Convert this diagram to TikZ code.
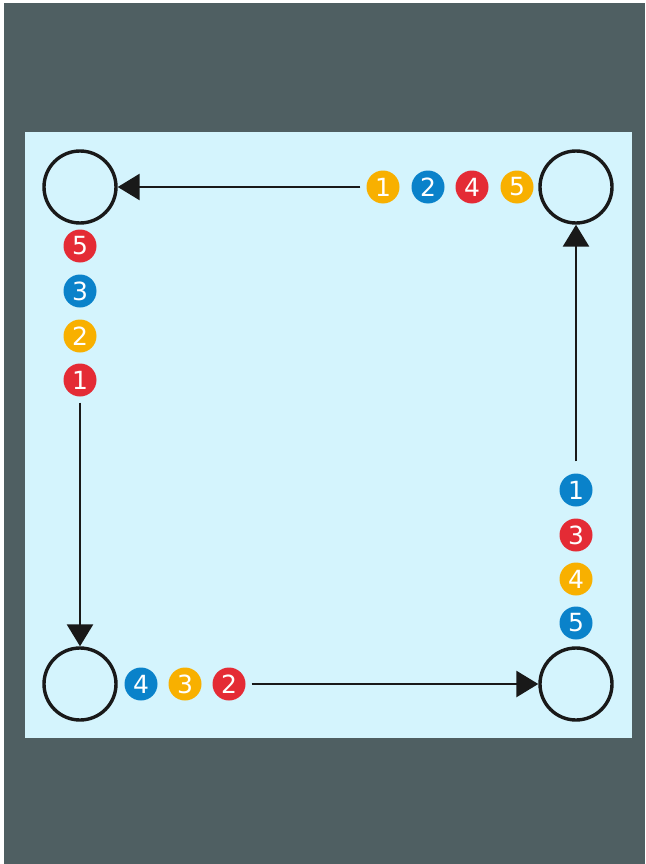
\documentclass[tikz,border=0pt]{standalone}
\usepackage{fontspec}
\setmainfont{DejaVu Sans}
\usetikzlibrary{arrows.meta}
\definecolor{bgdark}{HTML}{4F5F62}
\definecolor{panel}{HTML}{D4F4FD}
\definecolor{bor}{HTML}{F8B000}
\definecolor{bbl}{HTML}{0A82CA}
\definecolor{bre}{HTML}{E42B35}
\tikzset{
  spot/.style={circle,draw=black!90,line width=3.4pt,minimum size=72pt,inner sep=0pt},
  badge/.style={circle,minimum size=33pt,inner sep=0pt,text=white,font=\fontsize{25}{25}\selectfont},
  flow/.style={line width=2.8pt,draw=black!90,-{Triangle[length=22pt,width=26pt]}}
}
\begin{document}
\begin{tikzpicture}[x=1pt,y=-1pt]
\useasboundingbox (0,0) rectangle (645,864);
\fill[white] (0,0) rectangle (645,864);
\fill[bgdark] (4,3) rectangle (645,864);
\fill[panel] (25,132) rectangle (632,738);
% spots
\node[spot] (tl) at (80,187) {};
\node[spot] (tr) at (576,187) {};
\node[spot] (bl) at (80,684) {};
\node[spot] (br) at (576,684) {};
% top row
\node[badge,fill=bor] (t1) at (383,187) {1};
\node[badge,fill=bbl] (t2) at (428,187) {2};
\node[badge,fill=bre] (t3) at (472,187) {4};
\node[badge,fill=bor] (t4) at (517,187) {5};
% left column
\node[badge,fill=bre] (l1) at (80,246) {5};
\node[badge,fill=bbl] (l2) at (80,291) {3};
\node[badge,fill=bor] (l3) at (80,336) {2};
\node[badge,fill=bre] (l4) at (80,380) {1};
% right column
\node[badge,fill=bbl] (r1) at (576,490) {1};
\node[badge,fill=bre] (r2) at (576,535) {3};
\node[badge,fill=bor] (r3) at (576,579) {4};
\node[badge,fill=bbl] (r4) at (576,623) {5};
% bottom row
\node[badge,fill=bbl] (b1) at (141,684) {4};
\node[badge,fill=bor] (b2) at (185,684) {3};
\node[badge,fill=bre] (b3) at (229,684) {2};
% arrows
\draw[flow] (t1.west) ++(-6,0) -- (tl.east);
\draw[flow] (l4.south) ++(0,6) -- (bl.north);
\draw[flow] (b3.east) ++(6,0) -- (br.west);
\draw[flow] (r1.north) ++(0,-12) -- (tr.south);
\end{tikzpicture}
\end{document}
